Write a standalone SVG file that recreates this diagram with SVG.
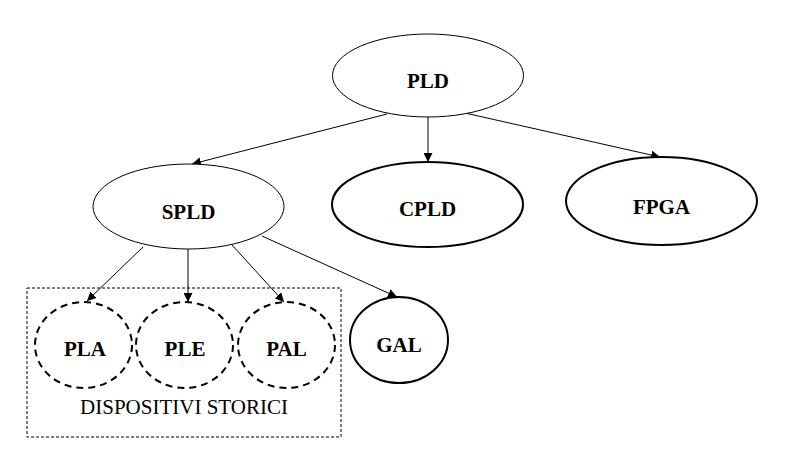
<svg xmlns="http://www.w3.org/2000/svg" width="788" height="462" viewBox="0 0 788 462">
<style>
.n{fill:#fff;stroke:#000;stroke-width:1}
.b{fill:#fff;stroke:#000;stroke-width:2}
.d{fill:#fff;stroke:#000;stroke-width:2;stroke-dasharray:7,5}
.t{font-family:"Liberation Serif",serif;font-weight:bold;font-size:21px;text-anchor:middle}
.c line{stroke:#000;stroke-width:1;marker-end:url(#a)}
</style>
<defs>
<marker id="a" viewBox="0 0 10 10" refX="10" refY="5" markerWidth="9" markerHeight="9" markerUnits="userSpaceOnUse" orient="auto">
<path d="M0,0L10,5L0,10z" fill="#000"/>
</marker>
</defs>
<g id="group">
<rect x="27" y="288" width="314" height="149" fill="none" stroke="#000" stroke-width="1" stroke-dasharray="3,2"/>
<text x="184" y="414" font-family="'Liberation Serif',serif" font-size="21" text-anchor="middle">DISPOSITIVI STORICI</text>
</g>
<g class="c" id="connectors">
<line x1="387" y1="114" x2="192" y2="164"/>
<line x1="428" y1="117" x2="428" y2="162"/>
<line x1="465" y1="113" x2="660" y2="157"/>
<line x1="143" y1="247" x2="87" y2="301"/>
<line x1="188" y1="249" x2="188" y2="302"/>
<line x1="232" y1="245" x2="284" y2="302"/>
<line x1="262" y1="236" x2="397" y2="297"/>
</g>
<g id="PLD"><ellipse class="n" cx="428" cy="75.5" rx="95.5" ry="41.5"/><text class="t" x="428" y="88">PLD</text></g>
<g id="SPLD"><ellipse class="n" cx="188.5" cy="206.5" rx="95.5" ry="42.5"/><text class="t" x="188.5" y="219">SPLD</text></g>
<g id="CPLD"><ellipse class="b" cx="427.5" cy="204.5" rx="95.5" ry="42.5"/><text class="t" x="427.5" y="216">CPLD</text></g>
<g id="FPGA"><ellipse class="b" cx="661.5" cy="201" rx="95.5" ry="44"/><text class="t" x="661.5" y="214">FPGA</text></g>
<g id="PLA"><ellipse class="d" cx="83.5" cy="345" rx="48.5" ry="43"/><text class="t" x="85" y="356">PLA</text></g>
<g id="PLE"><ellipse class="d" cx="184.5" cy="345" rx="48.5" ry="43"/><text class="t" x="185" y="356">PLE</text></g>
<g id="PAL"><ellipse class="d" cx="286.5" cy="345" rx="48.5" ry="43"/><text class="t" x="286.5" y="356">PAL</text></g>
<g id="GAL"><ellipse class="b" cx="399" cy="340" rx="49" ry="43"/><text class="t" x="399" y="352">GAL</text></g>
</svg>
